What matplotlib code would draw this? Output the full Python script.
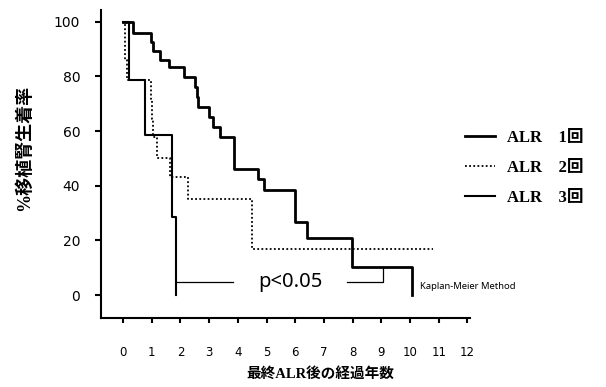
import matplotlib
matplotlib.use('Agg')
import matplotlib.pyplot as plt

# Kaplan-Meier curves (years, % graft survival)
t_alr1 = [0, 0.36, 0.97, 1.05, 1.29, 1.6, 2.12, 2.52, 2.57, 2.62, 3.0, 3.14, 3.38, 3.85, 4.7, 4.9, 5.99, 6.4, 7.97, 10.06]
s_alr1 = [100, 96, 92.5, 89.4, 86, 83.3, 79.7, 76, 72.4, 68.7, 65.1, 61.4, 57.8, 46.2, 42.6, 38.3, 26.8, 21, 10.1, 0]

t_alr2 = [0, 0.05, 0.15, 0.97, 1.0, 1.03, 1.18, 1.64, 2.27, 4.48, 10.8]
s_alr2 = [100, 86, 78.6, 71.4, 64.3, 57.8, 50.3, 43.2, 35.3, 17.0, 17.0]

t_alr3 = [0, 0.22, 0.77, 1.72, 1.83]
s_alr3 = [100, 78.8, 58.4, 28.6, 0]

labels = ['ALR    1回', 'ALR    2回', 'ALR    3回']
xticks = list(range(0, 13))
yticks = [0, 20, 40, 60, 80, 100]

cjk_bold = ['Liberation Serif', 'Noto Sans CJK JP']

fig = plt.figure(figsize=(6.06, 3.87), dpi=100)
ax = fig.add_axes([101/606, 1 - 318/387, 369/606, 308/387])

l1, = ax.step(t_alr1, s_alr1, where='post', color='black', lw=2.0)
l2, = ax.step(t_alr2, s_alr2, where='post', color='black', lw=1.3, linestyle=(0, (1, 1.3)))
l3, = ax.step(t_alr3, s_alr3, where='post', color='black', lw=1.5)

# p value bracket
ax.plot([1.83, 3.83], [4.6, 4.6], color='black', lw=0.9)
ax.plot([7.79, 9.06, 9.06], [4.6, 4.6, 10.1], color='black', lw=0.9)
ax.text(5.82, 4.6, 'p<0.05', family='Noto Sans', fontsize=14.5, ha='center', va='center')
ax.text(10.35, 3.0, 'Kaplan-Meier Method', family='Noto Sans', fontsize=6.8, ha='left', va='center')

ax.set_xlim(-0.77, 12.09)
ax.set_ylim(-8.4, 104.3)
ax.set_xticks(xticks)
ax.set_yticks(yticks)
ax.spines['top'].set_visible(False)
ax.spines['right'].set_visible(False)
for s in ['left', 'bottom']:
    ax.spines[s].set_linewidth(1.5)
ax.tick_params(axis='y', direction='out', length=4.5, width=1.5, pad=10.5, labelsize=10)
ax.tick_params(axis='x', direction='out', length=3.5, width=1.5, pad=17, labelsize=8.5)

ax.set_ylabel('%移植腎生着率', family=cjk_bold, fontweight='bold', fontsize=13)
ax.yaxis.set_label_coords(-0.184, 0.552)
ax.set_xlabel('最終ALR後の経過年数', family=cjk_bold, fontweight='bold', fontsize=10.5)
ax.xaxis.set_label_coords(0.593, -0.16)

ax.legend([l1, l2, l3], labels, loc='upper left',
          bbox_to_anchor=(465/606, 1 - 130/387), bbox_transform=fig.transFigure,
          frameon=False, borderpad=0, borderaxespad=0, handlelength=1.8,
          handletextpad=0.7, labelspacing=0.85,
          prop={'family': cjk_bold, 'weight': 'bold', 'size': 12})

fig.savefig('out.png', dpi=100)
